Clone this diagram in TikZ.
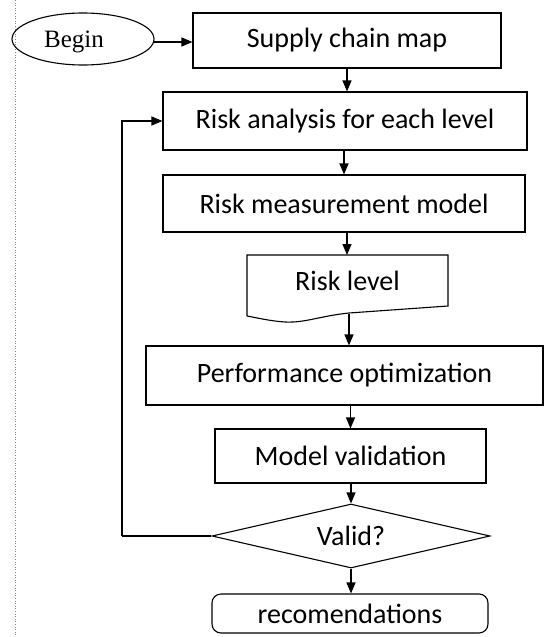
\documentclass[tikz,border=0pt]{standalone}
\usepackage{fontspec}
\setmainfont{Carlito}
\newfontfamily\beginfont{Liberation Serif}
\usetikzlibrary{shapes.geometric,arrows.meta}
\tikzset{
  box/.style={draw, line width=1.1pt, inner sep=0pt, font=\fontsize{28}{30}\selectfont},
  arr/.style={line width=1.1pt, -{Triangle[length=11pt,width=9pt]}},
  plain/.style={line width=1.1pt}
}
\begin{document}
\begin{tikzpicture}[x=1pt,y=-1pt]
\useasboundingbox (0,0) rectangle (545,637);
\draw[gray, dotted, line width=0.6pt] (15,0) -- (15,637);
\draw[plain] (83,39) ellipse [x radius=71pt, y radius=26pt];
\node[inner sep=0pt, font=\beginfont\fontsize{25}{27}\selectfont] (begin) at (74,42) {Begin};
\coordinate (beginE) at (154,42);
\node[box, minimum width=308pt, minimum height=55pt] (supply) at (347,40.5) {Supply chain map};
\node[box, minimum width=364pt, minimum height=58pt] (analysis) at (345,121) {Risk analysis for each level};
\node[box, minimum width=362pt, minimum height=57pt] (measure) at (344,203.5) {Risk measurement model};
% document shape
\draw[line width=1.1pt] (247,316) -- (247,255) -- (448,255) -- (448,306) -- (349,313)
  .. controls (320,316) and (305,323) .. (285,322)
  .. controls (270,321) and (258,318) .. (247,316);
\node[inner sep=0pt, font=\fontsize{28}{30}\selectfont] (level) at (347.5,281) {Risk level};
\coordinate (leveltop) at (347,255);
\coordinate (levelbot) at (349,314);
\node[box, minimum width=397pt, minimum height=59pt] (perf) at (344.5,375.5) {Performance optimization};
\node[box, minimum width=271pt, minimum height=54pt] (model) at (350.5,456) {Model validation};
\node[draw, diamond, line width=1.1pt, minimum width=278pt, minimum height=64pt, inner sep=0pt, aspect=4.3, font=\fontsize{28}{30}\selectfont] (valid) at (351,536) {Valid?};
\node[box, rounded corners=9pt, minimum width=276pt, minimum height=39pt] (rec) at (350,613.5) {recomendations};
\coordinate (fb) at (122,536);
% connectors
\draw[arr] (beginE) -- (beginE -| supply.west);
\draw[arr] (supply.south) -- (supply.south |- analysis.north);
\draw[arr] (analysis.south -| measure.north) -- (measure.north);
\draw[arr] (measure.south -| leveltop) -- (leveltop);
\draw[arr] (levelbot) -- (levelbot |- perf.north);
\draw[arr] (perf.south -| model.north) -- (model.north);
\draw[arr] (model.south -| valid.north) -- (valid.north);
\draw[arr] (valid.south) -- (valid.south |- rec.north);
\draw[plain] (valid.west) -- (fb);
\draw[arr] (fb) -- (fb |- analysis.west) -- (analysis.west);
\end{tikzpicture}
\end{document}
